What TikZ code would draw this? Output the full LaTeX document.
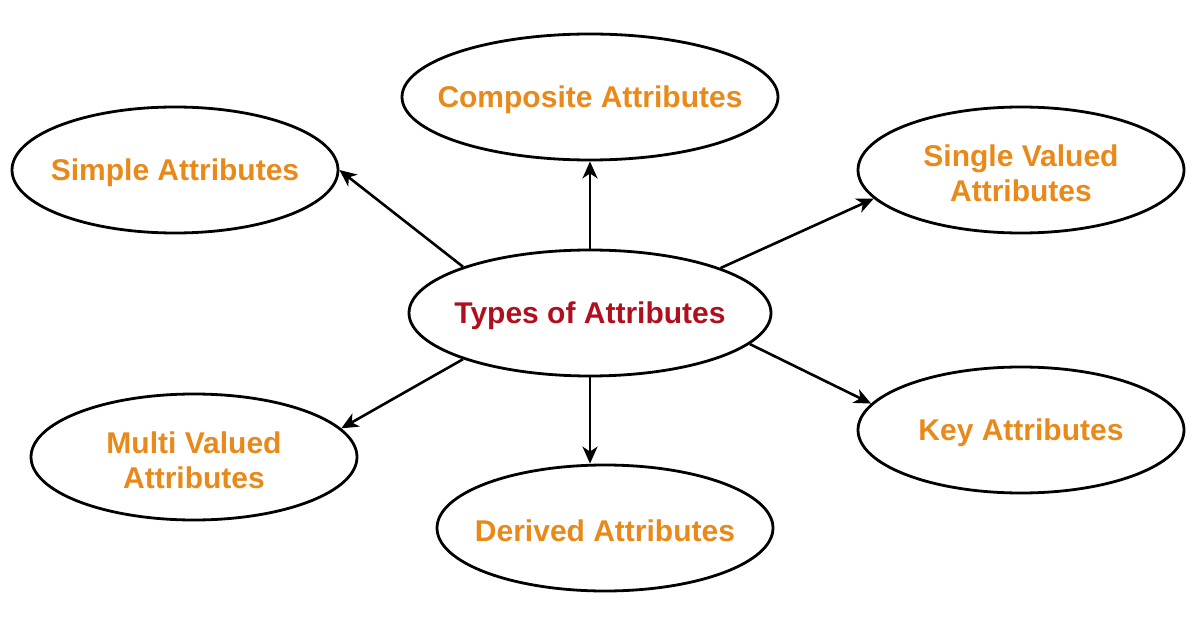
\documentclass[tikz,border=0pt]{standalone}
\usepackage{fontspec}
\setmainfont{Liberation Sans}
\usetikzlibrary{shapes.geometric,arrows.meta}

\definecolor{attrorange}{RGB}{232,137,26}
\definecolor{attrred}{RGB}{176,16,30}

\tikzset{
  attr/.style={ellipse, draw, line width=2.8pt, minimum width=326pt, minimum height=126pt, inner sep=0pt},
  attrtext/.style={text=attrorange, font=\bfseries\fontsize{30}{35}\selectfont, align=center, yshift=-3pt},
  link/.style={line width=2.6pt, -{Stealth[length=17pt,width=15pt,inset=5pt]}}
}

\begin{document}
\begin{tikzpicture}[x=1pt,y=-1pt]
  \useasboundingbox (0,0) rectangle (1196,628);
  % centre and the six kinds
  \node[attr, minimum width=362pt, label={[attrtext, text=attrred]center:Types of Attributes}] (types) at (590,313) {};
  \node[attr, minimum width=376pt, label={[attrtext]center:Composite Attributes}] (composite) at (590,97) {};
  \node[attr, label={[attrtext]center:Simple Attributes}] (simple) at (175,170) {};
  \node[attr, label={[attrtext]center:Single Valued\\Attributes}] (single) at (1021,170) {};
  \node[attr, label={[attrtext]center:Multi Valued\\Attributes}] (multi) at (194,457) {};
  \node[attr, label={[attrtext]center:Key Attributes}] (key) at (1021,430) {};
  \node[attr, minimum width=336pt, label={[attrtext]center:Derived Attributes}] (derived) at (605,528) {};
  % connectors
  \draw[link] (types.160) -- (simple.east);
  \draw[link] (types.north) -- (composite.south);
  \draw[link] (types.19) -- (single.191);
  \draw[link] (types.200) -- (multi.11);
  \draw[link] (types.-11) -- (key.170);
  \draw[link] (types.south) -- (types.south |- derived.north);
\end{tikzpicture}
\end{document}
